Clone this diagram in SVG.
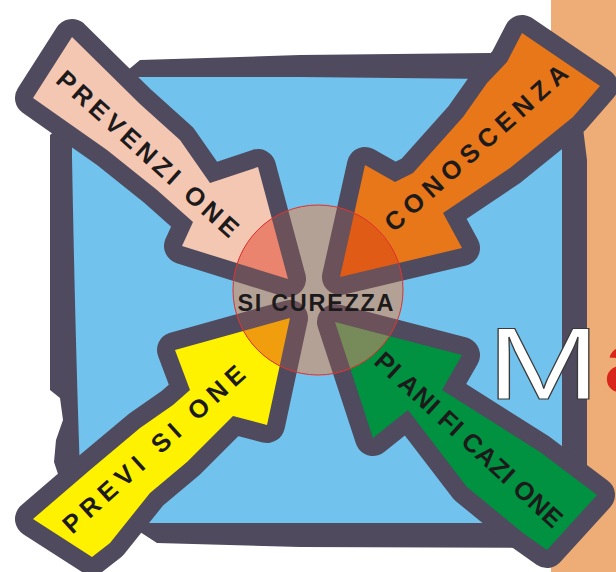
<svg xmlns="http://www.w3.org/2000/svg" xmlns:xlink="http://www.w3.org/1999/xlink" width="616" height="572" viewBox="0 0 616 572">
<defs>
<style>
.dk{fill:#4F4A5E}
.bl{fill:#72C2EE}
.ol{fill:none;stroke:#4F4A5E;stroke-width:36;stroke-linejoin:round}
.ol2{fill:none;stroke:#6B5159;stroke-width:36;stroke-linejoin:round}
.lbl{font-family:"Liberation Sans",Arial,sans-serif;font-weight:bold;font-size:25.5px;fill:#1D1A1B;text-anchor:middle}
</style>
<path id="pA" d="M72,37 L140,104 L180,140 L210,183 L258,167 L288,279 L182,246 L193,222 L157,190 L107,150 L33,98 Z"/>
<path id="pO" d="M522,33 L600,86 L573,117 L510,168 L443,213 L462,248 L340,277 L365,165 L395,182 L413,173 L463,117 L487,83 L507,62 Z"/>
<path id="pY" d="M33,519 L90,470 L140,428 L173,405 L190,390 L175,350 L290,318 L267,425 L233,416 L187,462 L150,493 L110,543 L92,557 Z"/>
<path id="pG" d="M335,322 L462,355 L442,390 L540,452 L597,495 L547,550 L523,533 L467,487 L408,410 L373,438 Z"/>
<clipPath id="cc"><circle cx="318" cy="290" r="85"/></clipPath>
</defs>

<rect x="551" y="0" width="65" height="572" fill="#EEAD76"/>

<g id="frame">
<path class="dk" d="M50,135 L140,60 L300,55 L490,53 L583,128 L587,160 L587,490 L555,548 L300,547 L157,543 L60,480 L54,462 L56,440 L63,420 L60,398 L50,390 Z"/>
<path class="bl" d="M72,77 L300,77 L490,79 L562,80 L562,523 L82,523 Q76,380 72,157 Z"/>
</g>

<g id="prevenzione">
<use xlink:href="#pA" href="#pA" class="ol"/>
<use xlink:href="#pA" href="#pA" fill="#F4C7B3"/>
<text class="lbl" transform="translate(148,153.5) rotate(42)" y="9.1" textLength="235" lengthAdjust="spacing">PREVENZI ONE</text>
</g>

<g id="conoscenza">
<use xlink:href="#pO" href="#pO" class="ol"/>
<use xlink:href="#pO" href="#pO" fill="#E8771A"/>
<text class="lbl" transform="translate(476,147.5) rotate(-41.8)" y="9.1" textLength="236" lengthAdjust="spacing">CONOSCENZA</text>
</g>

<g id="previsione">
<use xlink:href="#pY" href="#pY" class="ol"/>
<use xlink:href="#pY" href="#pY" fill="#FFF200"/>
<text class="lbl" transform="translate(153.5,449) rotate(-42.2)" y="9.1" textLength="236" lengthAdjust="spacing">PREVI SI ONE</text>
</g>

<g id="pianificazione">
<use xlink:href="#pG" href="#pG" class="ol"/>
<use xlink:href="#pG" href="#pG" fill="#009240"/>
<text class="lbl" transform="translate(469,439.5) rotate(42.7)" y="9.1" textLength="245" lengthAdjust="spacing">PI ANI FI CAZI ONE</text>
</g>

<g id="sicurezza">
<circle cx="318" cy="290" r="85" fill="#B4A196"/>
<g clip-path="url(#cc)">
<use xlink:href="#pA" href="#pA" class="ol2"/>
<use xlink:href="#pO" href="#pO" class="ol2"/>
<use xlink:href="#pY" href="#pY" class="ol2"/>
<use xlink:href="#pG" href="#pG" class="ol2"/>
<use xlink:href="#pA" href="#pA" fill="#EA846E"/>
<use xlink:href="#pO" href="#pO" fill="#E05B16"/>
<use xlink:href="#pY" href="#pY" fill="#F09E0E"/>
<use xlink:href="#pG" href="#pG" fill="#778A59"/>
</g>
<circle cx="318" cy="290" r="85" fill="none" stroke="#E2302A" stroke-width="1"/>
<text class="lbl" x="315.5" y="311" style="font-size:23.5px" textLength="156" lengthAdjust="spacing">SI CUREZZA</text>
</g>

<g id="title">
<text transform="translate(487,399) scale(1.33,1)" font-family="'Liberation Sans',Arial,sans-serif" font-size="102" fill="#FFFFFF" stroke="#3A3A3A" stroke-width="1">M</text>
<text transform="translate(602,392) scale(1.33,1)" font-family="'Liberation Sans',Arial,sans-serif" font-size="87" fill="#D9261C">a</text>
</g>
</svg>
